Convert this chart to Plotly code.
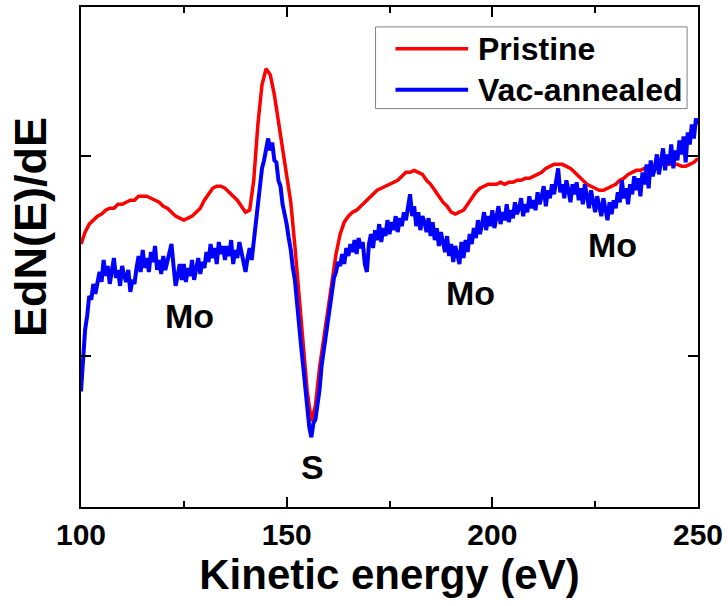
import plotly.graph_objects as go

# Kinetic energy grids (eV)
energy_pristine = list(range(100, 251))              # 1 eV step
energy_vac = [100 + 0.5 * i for i in range(301)]     # 0.5 eV step

# Pristine EdN(E)/dE (arb. units)
pristine = [
    56, 62, 66, 68, 70, 71, 73, 74, 74, 76,
    76, 77, 78, 78, 80, 80, 80, 79, 78, 77,
    75, 74, 72, 70, 69, 68, 69, 70, 72, 74,
    78, 81, 84, 85, 85, 84, 82, 80, 78, 75,
    72, 73, 88, 116, 136, 144, 141, 131, 118, 104,
    92, 77, 55, 30, 5, -18, -33, -25, -6, 8,
    22, 36, 51, 61, 67, 70, 72, 73, 75, 77,
    79, 81, 83, 84, 85, 86, 87, 88, 90, 92,
    92, 93, 92, 91, 88, 86, 83, 80, 77, 75,
    72, 71, 72, 73, 76, 79, 82, 84, 85, 86,
    86, 86, 87, 86, 87, 87, 88, 88, 89, 89,
    90, 91, 92, 94, 95, 96, 96, 96, 95, 94,
    92, 90, 88, 86, 85, 84, 83, 83, 84, 85,
    86, 88, 89, 91, 92, 93, 93, 94, 95, 95,
    96, 96, 96, 96, 96, 96, 95, 95, 96, 97,
    99,
]

# Vac-annealed EdN(E)/dE (arb. units)
vac_annealed = [
    -18, 0, 13, 20, 30, 28, 36, 31, 38, 42,
    37, 48, 40, 45, 36, 44, 49, 39, 43, 35,
    45, 40, 37, 43, 32, 38, 36, 44, 50, 42,
    53, 44, 49, 42, 52, 47, 55, 43, 48, 41,
    50, 43, 47, 52, 56, 45, 35, 40, 46, 38,
    46, 37, 44, 40, 48, 38, 45, 49, 41, 47,
    44, 52, 47, 56, 49, 54, 46, 57, 51, 55,
    48, 55, 50, 58, 46, 53, 49, 57, 52, 47,
    42, 49, 54, 48, 58, 66, 78, 88, 94, 98,
    104, 109, 103, 107, 98, 97, 88, 85, 76, 72,
    66, 59, 53, 44, 38, 27, 18, 5, -5, -16,
    -27, -36, -41, -34, -32, -24, -17, -5, 2, 11,
    16, 24, 29, 39, 42, 47, 45, 51, 46, 54,
    50, 56, 52, 58, 51, 59, 54, 57, 46, 42,
    56, 61, 54, 63, 58, 66, 57, 64, 60, 68,
    61, 67, 63, 70, 62, 69, 65, 72, 68, 74,
    81, 70, 75, 65, 72, 63, 70, 67, 62, 69,
    60, 67, 58, 64, 55, 62, 57, 52, 60, 50,
    56, 47, 55, 51, 46, 57, 49, 58, 52, 61,
    56, 64, 59, 68, 61, 66, 72, 63, 70, 65,
    73, 64, 70, 75, 66, 72, 68, 76, 67, 73,
    69, 77, 71, 74, 79, 70, 76, 72, 80, 74,
    78, 73, 82, 76, 80, 85, 75, 83, 79, 86,
    81, 88, 94, 82, 86, 79, 88, 83, 77, 86,
    81, 87, 78, 84, 76, 86, 80, 74, 83, 77,
    72, 80, 75, 70, 79, 73, 68, 77, 71, 78,
    74, 82, 77, 88, 79, 84, 76, 86, 81, 90,
    83, 89, 80, 92, 86, 96, 84, 98, 90, 94,
    101, 91, 99, 104, 93, 101, 96, 106, 94, 103,
    98, 108, 101, 110, 97, 112, 106, 116, 109, 119,
    116,
]

# Peak labels
label_text = ["Mo", "Mo", "Mo", "S"]
label_x = [126.4, 194.6, 229.2, 156.4]
label_y = [20, 31.5, 55.5, -56]

series_names = ["Pristine", "Vac-annealed"]
series_colors = ["#ff0000", "#0000ff"]
series_widths = [3.5, 4]

FONT = "Liberation Sans, Arial, sans-serif"

fig = go.Figure()
fig.add_trace(go.Scatter(x=energy_pristine, y=pristine, mode="lines",
                         name=series_names[0], showlegend=False,
                         line=dict(color=series_colors[0], width=series_widths[0])))
fig.add_trace(go.Scatter(x=energy_vac, y=vac_annealed, mode="lines",
                         name=series_names[1], showlegend=False,
                         line=dict(color=series_colors[1], width=series_widths[1])))

for t, x, y in zip(label_text, label_x, label_y):
    fig.add_annotation(x=x, y=y, xref="x", yref="y", text=t, showarrow=False,
                       font=dict(family=FONT, size=34, color="black", weight="bold"),
                       xanchor="center", yanchor="middle")

# y-axis title placed as in the reference (slightly above the plot centre)
fig.add_annotation(x=-0.081, y=0.56, xref="paper", yref="paper",
                   text="EdN(E)/dE", textangle=-90, showarrow=False,
                   xanchor="center", yanchor="middle",
                   font=dict(family=FONT, size=45, color="black", weight="bold"))

# Legend box drawn in paper coordinates
fig.add_shape(type="rect", xref="paper", yref="paper",
              x0=0.4774, x1=0.9823, y0=0.7968, y1=0.9602,
              line=dict(color="#808080", width=1), fillcolor="white", layer="above")
legend_rows_y = [0.9163, 0.8347]
for name, col, w, ly in zip(series_names, series_colors, series_widths, legend_rows_y):
    fig.add_shape(type="line", xref="paper", yref="paper",
                  x0=0.5097, x1=0.6274, y0=ly, y1=ly,
                  line=dict(color=col, width=w), layer="above")
    fig.add_annotation(x=0.6403, y=ly, xref="paper", yref="paper", text=name,
                       showarrow=False, xanchor="left", yanchor="middle",
                       font=dict(family=FONT, size=32, color="black", weight="bold"))

fig.update_layout(
    width=728, height=606,
    margin=dict(l=81, r=27, t=5, b=99),
    paper_bgcolor="white", plot_bgcolor="white",
    font=dict(family=FONT, color="black"),
    showlegend=False,
)
fig.update_xaxes(
    range=[100, 250], tickvals=[100, 150, 200, 250],
    ticks="inside", ticklen=10, tickwidth=2, tickcolor="black",
    minor=dict(tickvals=[125, 175, 225], ticks="inside", ticklen=6, tickwidth=2, tickcolor="black"),
    showline=True, linecolor="black", linewidth=2, mirror="ticks",
    showgrid=False, zeroline=False, ticklabelstandoff=0,
    tickfont=dict(family=FONT, size=30, color="black", weight="bold"),
    title=dict(text="Kinetic energy (eV)", standoff=8,
               font=dict(family=FONT, size=42, color="black", weight="bold")),
)
fig.update_yaxes(
    range=[-76, 175], tickvals=[0, 100], showticklabels=False,
    ticks="inside", ticklen=10, tickwidth=2, tickcolor="black",
    showline=True, linecolor="black", linewidth=2, mirror="ticks",
    showgrid=False, zeroline=False,
)

fig.write_html("out.html")
